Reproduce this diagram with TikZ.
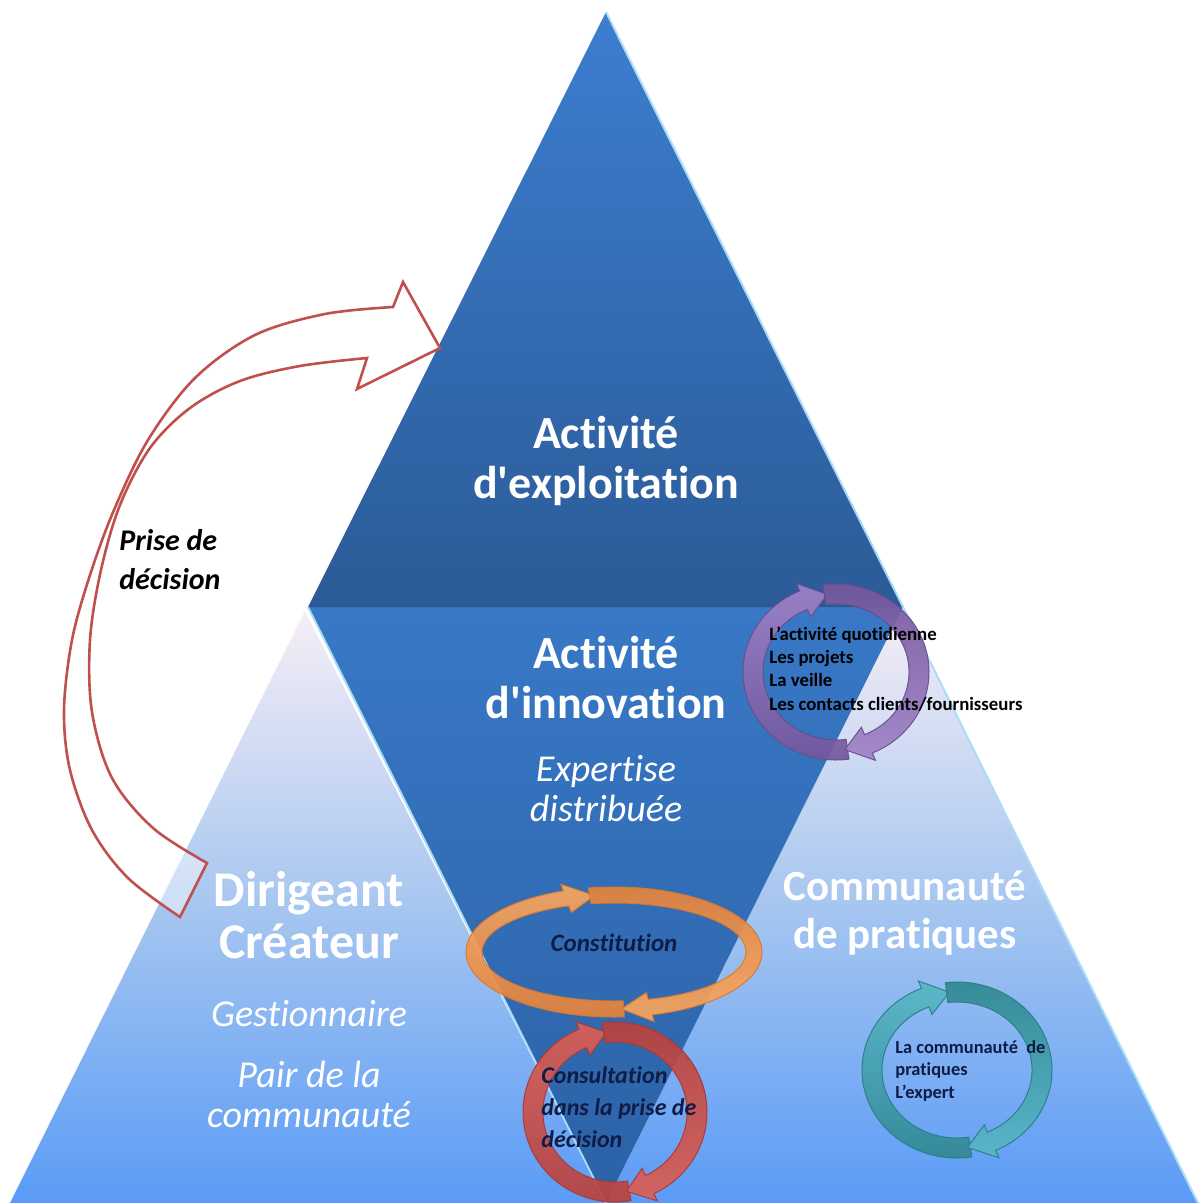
\documentclass[tikz,border=0pt]{standalone}
\usepackage{fontspec}
\setmainfont{Carlito}[Ligatures={TeXOff,NoCommon}]
\usetikzlibrary{calc}
\definecolor{toptop}{HTML}{3C7ED0}
\definecolor{topbot}{HTML}{2B5B97}
\definecolor{midtop}{HTML}{3878C6}
\definecolor{midbot}{HTML}{2C62A6}
\definecolor{lowtop}{HTML}{F6EEF6}
\definecolor{lowmid}{HTML}{A6C6F0}
\definecolor{lowbot}{HTML}{5A9BF6}
\definecolor{edgehi}{HTML}{A9DDF7}
\definecolor{arrowred}{HTML}{C0504D}
\definecolor{navy}{HTML}{0F1C45}
\definecolor{purpL}{HTML}{A083C8}
\definecolor{purpD}{HTML}{73559A}
\definecolor{purpE}{HTML}{6A4C8C}
\definecolor{oranL}{HTML}{F9A860}
\definecolor{oranD}{HTML}{E5823A}
\definecolor{oranE}{HTML}{D9782B}
\definecolor{redL}{HTML}{DC6056}
\definecolor{redD}{HTML}{B8403C}
\definecolor{redE}{HTML}{A83A36}
\definecolor{tealL}{HTML}{58B8C6}
\definecolor{tealD}{HTML}{2F8790}
\definecolor{tealE}{HTML}{2A7D86}

\newcommand\setring[5]{%
  \def\Rmx{#1}\def\Rmy{#2}\def\Rhd{#4}%
  \pgfmathsetmacro\Rox{#1+#3/2}\pgfmathsetmacro\Roy{#2+#3/2}%
  \pgfmathsetmacro\Rix{#1-#3/2}\pgfmathsetmacro\Riy{#2-#3/2}%
  \pgfmathsetmacro\Rbx{#1+#3/2+#5}\pgfmathsetmacro\Rby{#2+#3/2+#5}%
  \pgfmathsetmacro\Rcx{#1-#3/2-#5}\pgfmathsetmacro\Rcy{#2-#3/2-#5}}
\newcommand\ringarc[3]{%
  \pgfmathsetmacro\Rth{#3-\Rhd}%
  \path[#1] ({\Rox*cos(#2)},{\Roy*sin(#2)}) arc[start angle=#2, end angle=\Rth, x radius=\Rox, y radius=\Roy]
    -- ({\Rbx*cos(\Rth)},{\Rby*sin(\Rth)}) -- ({\Rmx*cos(#3)},{\Rmy*sin(#3)}) -- ({\Rcx*cos(\Rth)},{\Rcy*sin(\Rth)})
    -- ({\Rix*cos(\Rth)},{\Riy*sin(\Rth)}) arc[start angle=\Rth, end angle=#2, x radius=\Rix, y radius=\Riy] -- cycle;}

\tikzset{
  toptri/.style={top color=toptop, bottom color=topbot},
  midtri/.style={top color=midtop, bottom color=midbot},
  lowtri/.style={top color=lowtop, bottom color=lowbot, middle color=lowmid},
  edgeline/.style={draw=edgehi, line width=1pt},
  ringA/.style 2 args={top color=#1, bottom color=#2, opacity=0.92},
  ringB/.style 2 args={top color=#2, bottom color=#1, opacity=0.92},
  title/.style={text=white, align=center, inner sep=0pt, font=\bfseries\fontsize{23}{25}\selectfont},
  subtitle/.style={text=white, align=center, inner sep=0pt, font=\itshape\fontsize{19}{20}\selectfont},
  ringtext/.style={align=left, inner sep=0pt, anchor=north west, font=\bfseries\fontsize{9.4}{11.7}\selectfont},
  darkbi/.style={text=navy, inner sep=0pt, font=\bfseries\itshape\fontsize{12.5}{16}\selectfont},
  bigarrow/.style={draw=arrowred, line width=1.3pt, fill=white, fill opacity=0.45, line join=miter}
}

\begin{document}
\begin{tikzpicture}[x=0.5pt,y=-0.5pt]
\useasboundingbox (0,0) rectangle (1201,1203);
\fill[white] (0,0) rectangle (1201,1203);

% vertices
\coordinate (apex) at (606,12);
\coordinate (ml) at (308,607);
\coordinate (mr) at (903,607);
\coordinate (bl) at (10,1203);
\coordinate (bm) at (606,1203);
\coordinate (br) at (1198,1203);

% triangles
\path[lowtri] (305,611) -- (bl) -- (bm) -- cycle;
\path[lowtri] (mr) -- (bm) -- (br) -- cycle;
\path[midtri] (ml) -- (mr) -- (bm) -- cycle;
\path[toptri] (apex) -- (mr) -- (ml) -- cycle;
\draw[edgeline] (apex) -- (mr);
\draw[edgeline] (ml) -- (bm);
\draw[edgeline] (mr) -- (br);

% big curved arrow
\path[bigarrow] plot[smooth, tension=0.55] coordinates {(180,917) (128,878) (92,830) (70,770) (64,710) (72,640) (90,575) (114,510) (148,440) (195,378) (255,335) (325,314) (393,307)}
  -- (403,282) -- (440,348) -- (357,389) -- (367,358)
  -- plot[smooth, tension=0.55] coordinates {(367,358) (300,366) (240,381) (190,408) (150,448) (120,505) (101,570) (90,640) (92,712) (112,778) (153,828) (207,863)}
  -- cycle;

% purple ring
\begin{scope}[shift={(836,672)}]
  \setring{83}{78}{20}{17}{8}
  \ringarc{ringA={purpL}{purpD}, draw=purpE, line width=0.5pt}{82}{264}
  \ringarc{ringB={purpL}{purpD}, draw=purpE, line width=0.5pt}{262}{444}
\end{scope}
% orange ring
\begin{scope}[shift={(614,952)}]
  \setring{140}{57}{16}{12}{7}
  \ringarc{ringA={oranL}{oranD}, draw=oranE, line width=0.5pt}{86}{262}
  \ringarc{ringB={oranL}{oranD}, draw=oranE, line width=0.5pt}{260}{447}
\end{scope}
% red ring
\begin{scope}[shift={(615,1112)}]
  \setring{82}{80}{20}{17}{8}
  \ringarc{ringA={redL}{redD}, draw=redE, line width=0.5pt}{80}{264}
  \ringarc{ringB={redL}{redD}, draw=redE, line width=0.5pt}{262}{442}
\end{scope}
% teal ring
\begin{scope}[shift={(957,1070)}]
  \setring{85}{78}{20}{17}{8}
  \ringarc{ringA={tealL}{tealD}, draw=tealE, line width=0.5pt}{81}{265}
  \ringarc{ringB={tealL}{tealD}, draw=tealE, line width=0.5pt}{263}{443}
\end{scope}

% texts
\node[title] (expl) at (606,461) {Activité\\d'exploitation};
\node[title] (innov) at (606,678) {Activité\\d'innovation};
\node[subtitle] (expert) at (606,789) {Expertise\\distribuée};
\node[title, font=\bfseries\fontsize{25}{26}\selectfont] (dirig) at (309,915) {Dirigeant\\Créateur};
\node[subtitle] (gest) at (309,1014) {Gestionnaire};
\node[subtitle] (pair) at (309,1094) {Pair de la\\communauté};
\node[title, font=\bfseries\fontsize{21.5}{24}\selectfont] (commu) at (905,913) {Communauté\\de pratiques};
\node[inner sep=0pt, align=left, anchor=north west, font=\bfseries\itshape\fontsize{15}{19.5}\selectfont] (prise) at (119,529) {Prise de\\décision};
\node[darkbi] (constit) at (614,943) {Constitution};
\node[darkbi, align=left, anchor=north west, font=\bfseries\itshape\fontsize{12}{16}\selectfont] (consult) at (541,1066) {Consultation\\dans la prise de\\décision};
\node[ringtext] (activ) at (769,626) {L’activité quotidienne\\Les projets\\La veille\\Les contacts clients/fournisseurs};
\node[ringtext, text=navy, font=\bfseries\fontsize{9.2}{11.25}\selectfont] (cdp) at (895,1040) {La communauté~ de\\pratiques\\L’expert};
\end{tikzpicture}
\end{document}
